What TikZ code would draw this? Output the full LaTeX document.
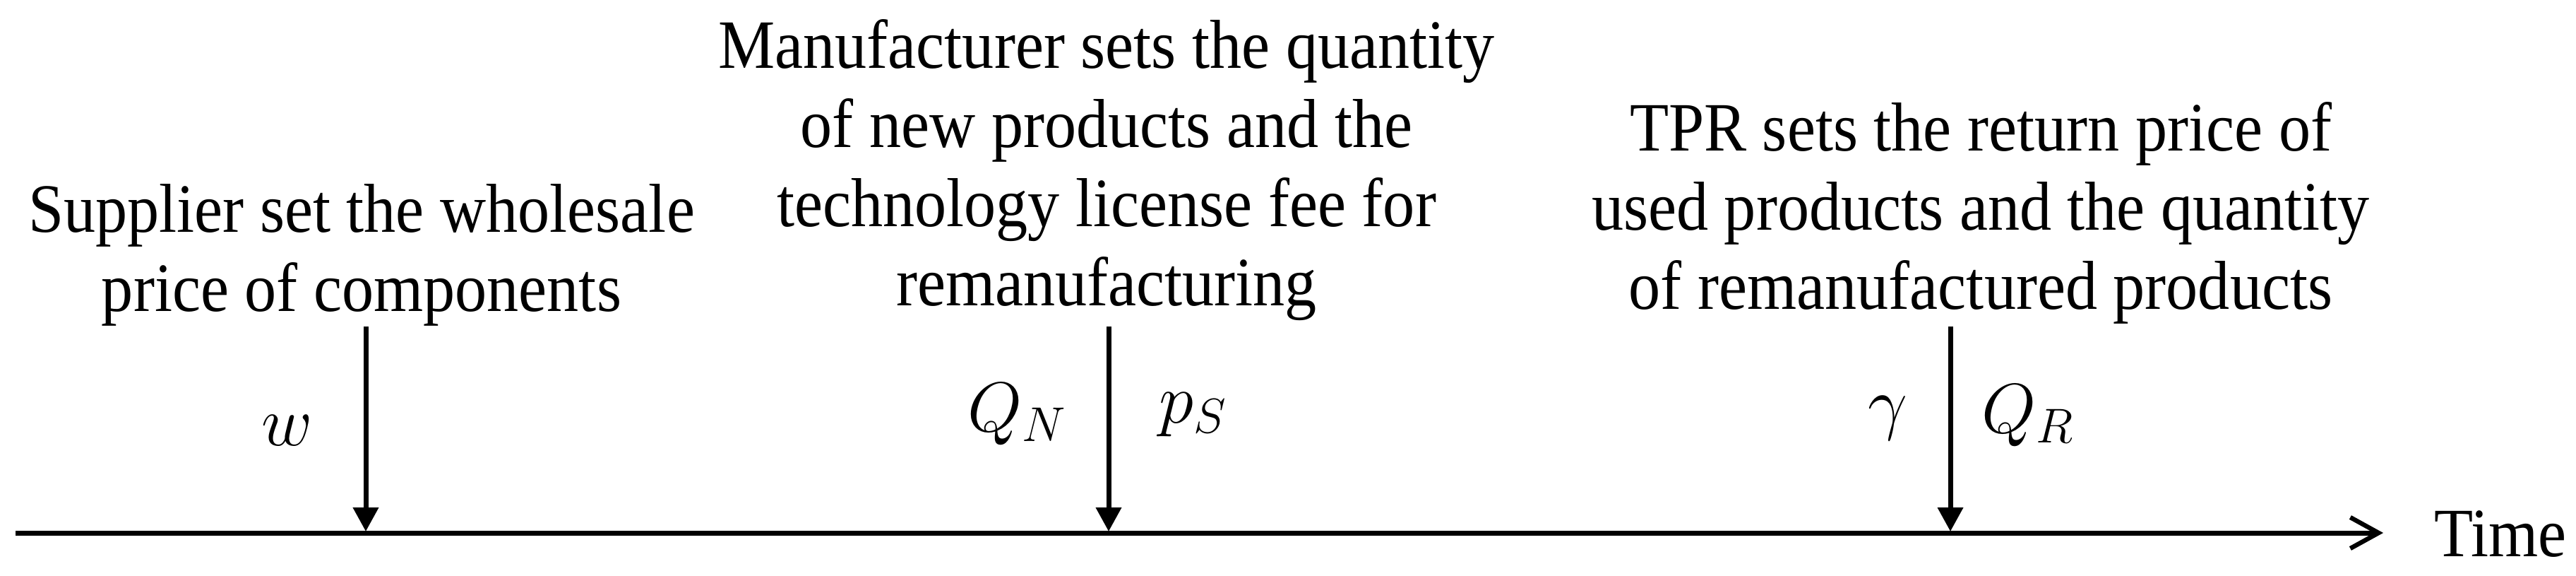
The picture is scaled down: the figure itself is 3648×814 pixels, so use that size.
\documentclass[tikz,border=0pt]{standalone}
\usepackage{fontspec}
\setmainfont{Liberation Serif}[FakeStretch=0.92]
\usetikzlibrary{arrows.meta}
\begin{document}
\begin{tikzpicture}[x=0.25pt,y=-0.25pt,
  txt/.style={inner sep=0pt,align=center,anchor=base,font=\fontsize{24.5pt}{28pt}\selectfont},
  mlab/.style={inner sep=0pt,anchor=base,font=\fontsize{24.5pt}{28pt}\selectfont},
  evarrow/.style={line width=1.75pt,-{Triangle[length=8.5pt,width=8.75pt]}},
  timeline/.style={line width=1.75pt,-{Straight Barb[length=10pt,width=11pt,line width=1.6pt]}}]
\useasboundingbox (0,0) rectangle (3648,814);
% timeline
\coordinate (tl0) at (22,754);
\coordinate (tlend) at (3375,754);
\draw[timeline] (tl0) -- (tlend);
\node[txt,anchor=base west] (time) at (3447,787) {Time};
% event texts (anchor=base is the baseline of the last line)
\node[txt] (sup) at (512,440) {Supplier set the wholesale\\price of components};
\node[txt] (man) at (1567,432) {Manufacturer sets the quantity\\of new products and the\\technology license fee for\\remanufacturing};
\node[txt] (tpr) at (2805,437) {TPR sets the return price of\\used products and the quantity\\of remanufactured products};
% arrows
\coordinate (s1) at (518,462); \coordinate (e1) at (518,752);
\coordinate (s2) at (1570,462); \coordinate (e2) at (1570,752);
\coordinate (s3) at (2762,462); \coordinate (e3) at (2762,752);
\draw[evarrow] (s1) -- (e1);
\draw[evarrow] (s2) -- (e2);
\draw[evarrow] (s3) -- (e3);
% labels
\node[mlab] (w) at (407,630) {$w$};
\node[mlab] (qn) at (1441,610) {$Q_N$};
\node[mlab] (ps) at (1690,598) {$p_S$};
\node[mlab] (gam) at (2673,603) {$\gamma$};
\node[mlab] (qr) at (2872,612) {$Q_R$};
\end{tikzpicture}
\end{document}
